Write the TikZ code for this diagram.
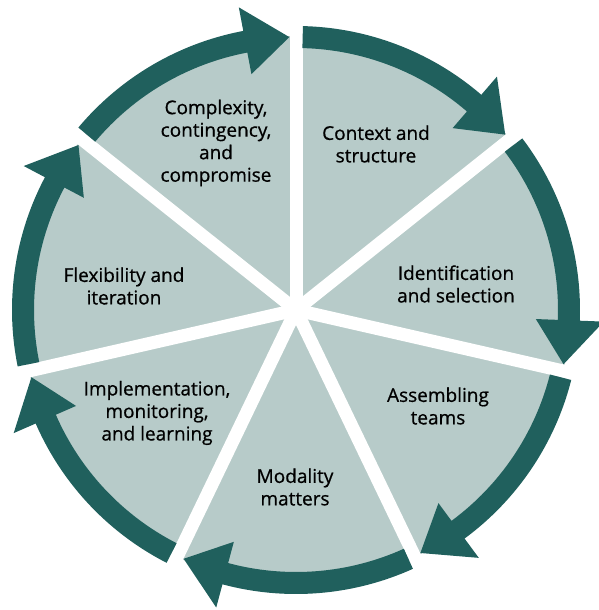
\documentclass[tikz,border=0pt]{standalone}
\usepackage{fontspec}
\setmainfont{Open Sans}
\newfontfamily\stagefont{Open Sans}[FakeBold=0.7]
\usepackage{tikz}

\definecolor{ringteal}{HTML}{20605D}
\definecolor{sectorgrey}{HTML}{B7CBC9}

\tikzset{
  sectorfill/.style={fill=sectorgrey},
  gapline/.style={draw=white,line width=13pt},
  cyclearrow/.style={fill=ringteal},
  stagelabel/.style={align=center,text=black,font=\stagefont\fontsize{19}{22.5}\selectfont}
}

\begin{document}
\begin{tikzpicture}[x=1pt,y=1pt]
\useasboundingbox (-296,-300) rectangle (303,310);
% pie and the white gaps between the seven stages
\fill[sectorfill] (0,0) circle (274pt);
\draw[gapline] (0,0) -- (90:330pt);
\draw[gapline] (0,0) -- (38.57:330pt);
\draw[gapline] (0,0) -- (-12.86:330pt);
\draw[gapline] (0,0) -- (-64.29:330pt);
\draw[gapline] (0,0) -- (-115.71:330pt);
\draw[gapline] (0,0) -- (-167.14:330pt);
\draw[gapline] (0,0) -- (141.43:330pt);
% clockwise arrows round the rim
\fill[cyclearrow] (88.6:284pt) arc[start angle=88.6,end angle=49.27,radius=284pt] -- (49.27:308pt) -- (39.97:273pt) -- (49.27:240pt) -- (49.27:262pt) arc[start angle=49.27,end angle=88.6,radius=262pt] -- cycle;
\fill[cyclearrow] (37.17:284pt) arc[start angle=37.17,end angle=-2.16,radius=284pt] -- (-2.16:308pt) -- (-11.46:273pt) -- (-2.16:240pt) -- (-2.16:262pt) arc[start angle=-2.16,end angle=37.17,radius=262pt] -- cycle;
\fill[cyclearrow] (-14.26:284pt) arc[start angle=-14.26,end angle=-53.59,radius=284pt] -- (-53.59:308pt) -- (-62.89:273pt) -- (-53.59:240pt) -- (-53.59:262pt) arc[start angle=-53.59,end angle=-14.26,radius=262pt] -- cycle;
\fill[cyclearrow] (-65.69:284pt) arc[start angle=-65.69,end angle=-105.01,radius=284pt] -- (-105.01:308pt) -- (-114.31:273pt) -- (-105.01:240pt) -- (-105.01:262pt) arc[start angle=-105.01,end angle=-65.69,radius=262pt] -- cycle;
\fill[cyclearrow] (-117.11:284pt) arc[start angle=-117.11,end angle=-156.44,radius=284pt] -- (-156.44:308pt) -- (-165.74:273pt) -- (-156.44:240pt) -- (-156.44:262pt) arc[start angle=-156.44,end angle=-117.11,radius=262pt] -- cycle;
\fill[cyclearrow] (191.46:284pt) arc[start angle=191.46,end angle=152.13,radius=284pt] -- (152.13:308pt) -- (142.83:273pt) -- (152.13:240pt) -- (152.13:262pt) arc[start angle=152.13,end angle=191.46,radius=262pt] -- cycle;
\fill[cyclearrow] (140.03:284pt) arc[start angle=140.03,end angle=100.7,radius=284pt] -- (100.7:308pt) -- (91.4:273pt) -- (100.7:240pt) -- (100.7:262pt) arc[start angle=100.7,end angle=140.03,radius=262pt] -- cycle;
% stage labels
\node[stagelabel] (cplx) at (-80,167) {Complexity,\\contingency,\\and\\compromise};
\node[stagelabel] (ctx) at (80,166) {Context and\\structure};
\node[stagelabel] (ident) at (160,26) {Identification\\and selection};
\node[stagelabel] (assem) at (142,-96) {Assembling\\teams};
\node[stagelabel] (modal) at (-1,-177) {Modality\\matters};
\node[stagelabel] (impl) at (-139,-103) {Implementation,\\monitoring,\\and learning};
\node[stagelabel] (flex) at (-172,24) {Flexibility and\\iteration};
\end{tikzpicture}
\end{document}
